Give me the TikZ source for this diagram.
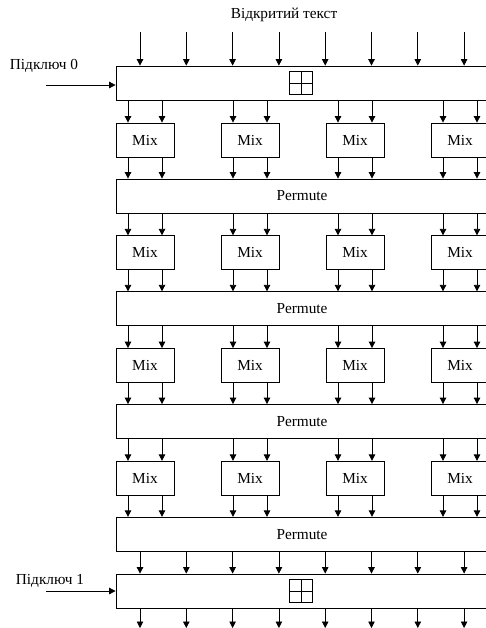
\documentclass[tikz,border=0pt]{standalone}
\usepackage{fontspec}
\setmainfont{Liberation Serif}
\usetikzlibrary{arrows.meta, positioning}

\begin{document}
\begin{tikzpicture}[x=1pt, y=-1pt, font=\fontsize{15.3}{18}\selectfont,
    wide/.style = {draw, line width=0.8pt, minimum width=372pt, minimum height=34pt, inner sep=0pt},
    mixbox/.style = {draw, line width=0.8pt, minimum width=58pt, minimum height=34pt, inner sep=0pt},
    xorbox/.style = {draw, line width=0.8pt, minimum size=23pt, inner sep=0pt,
        path picture={\draw[line width=0.8pt] (path picture bounding box.north) -- (path picture bounding box.south)
            (path picture bounding box.west) -- (path picture bounding box.east);}},
    arr/.style = {line width=0.8pt, -{Triangle[length=6.5pt, width=6.5pt]}}]
    \useasboundingbox (0,0) rectangle (486,628);
    \clip (0,0) rectangle (486,628);

    % ключі
    \node[wide] (key0) at (302,83) {};
    \node[xorbox] (xor0) at (301,83) {};
    \node[wide] (key1) at (302,591) {};
    \node[xorbox] (xor1) at (301,591) {};

    % раунди
    \foreach \r in {1,...,4} {
        \node[wide] (p\r) at (302,{196+112.75*(\r-1)}) {Permute};
        \foreach \c in {1,...,4}
            \node[mixbox] (m\r\c) at ({145+105*(\c-1)},{140+112.75*(\r-1)}) {Mix};
    }

    % підписи
    \node (plain) at (284,15) {Відкритий текст};
    \node (sub0) at (44,66) {Підключ 0};
    \node (sub1) at (50,581) {Підключ 1};
    \coordinate (k0) at (46,85);
    \coordinate (k1) at (46,591);
    \draw[arr] (k0) -- (k0 -| key0.west);
    \draw[arr] (k1) -- (key1.west);

    % вхід і вихід
    \foreach \k in {1,...,8} {
        \coordinate (in\k) at ({140+46.3*(\k-1)},32);
        \coordinate (out\k) at ({140+46.3*(\k-1)},628);
        \draw[arr] (in\k) -- (in\k |- key0.north);
        \draw[arr] (in\k |- p4.south) -- (in\k |- key1.north);
        \draw[arr] (in\k |- key1.south) -- (out\k);
    }

    % стрілки між блоками
    \foreach \c in {1,...,4}
        \foreach \s in {-17,17} {
            \draw[arr] ([xshift=\s pt]m1\c.north |- key0.south) -- ([xshift=\s pt]m1\c.north);
            \foreach \r [evaluate=\r as \n using int(\r+1)] in {1,...,4} {
                \draw[arr] ([xshift=\s pt]m\r\c.south) -- ([xshift=\s pt]m\r\c.south |- p\r.north);
                \ifnum\r<4
                    \draw[arr] ([xshift=\s pt]m\n\c.north |- p\r.south) -- ([xshift=\s pt]m\n\c.north);
                \fi
            }
        }
\end{tikzpicture}
\end{document}
